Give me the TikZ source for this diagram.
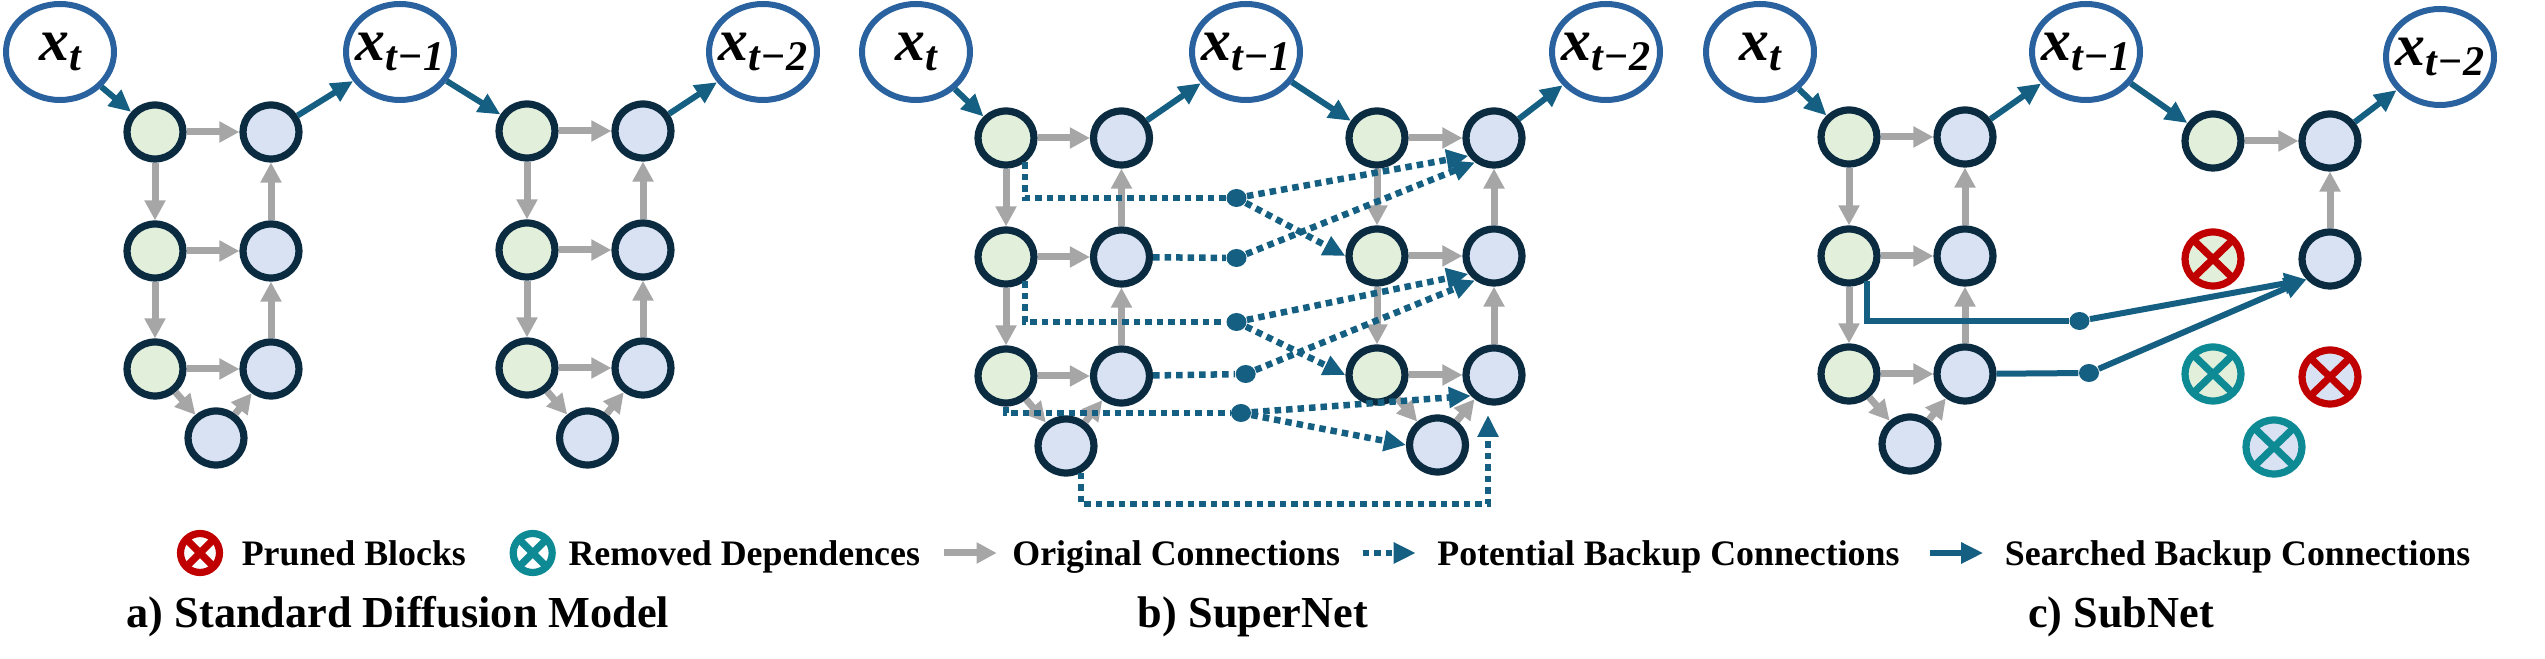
\documentclass[tikz,border=0pt]{standalone}
\usepackage{fontspec}
\setmainfont{Liberation Serif}
\usepackage{xcolor}
\usetikzlibrary{arrows.meta, positioning, shapes.geometric}

\definecolor{blockline}{HTML}{0B2B40}
\definecolor{blockgreen}{HTML}{E2EFDA}
\definecolor{blockblue}{HTML}{D9E2F3}
\definecolor{stateline}{HTML}{2A629F}
\definecolor{backup}{HTML}{156082}
\definecolor{origin}{HTML}{A6A6A6}
\definecolor{prunedred}{HTML}{C00000}
\definecolor{removedteal}{HTML}{0E8A94}

\newcommand{\xlabel}[1]{\makebox[0pt]{x\raisebox{-0.1cm}{\fontsize{12}{13}\selectfont #1}}}

\begin{document}
\begin{tikzpicture}[
  state/.style={
    ellipse,
    draw=stateline,
    line width=0.06cm,
    fill=white,
    inner sep=0pt,
    minimum width=1.08cm,
    minimum height=0.96cm,
    font=\fontsize{17}{18}\selectfont\bfseries\itshape
  },
  block/.style={
    ellipse,
    on grid,
    draw=blockline,
    line width=0.072cm,
    inner sep=0pt,
    minimum width=0.56cm,
    minimum height=0.54cm
  },
  gblock/.style={block, fill=blockgreen},
  bblock/.style={block, fill=blockblue},
  crossed/.style={
    block,
    path picture={
      \draw[line width=0.072cm, #1]
        (path picture bounding box.north west) -- (path picture bounding box.south east)
        (path picture bounding box.north east) -- (path picture bounding box.south west);
    }
  },
  prunedg/.style={crossed=prunedred, draw=prunedred, fill=blockgreen},
  prunedb/.style={crossed=prunedred, draw=prunedred, fill=blockblue},
  removedg/.style={crossed=removedteal, draw=removedteal, fill=blockgreen},
  removedb/.style={crossed=removedteal, draw=removedteal, fill=blockblue},
  legendred/.style={crossed=prunedred, on grid=false, draw=prunedred, fill=white, minimum width=0.39cm, minimum height=0.39cm},
  legendteal/.style={crossed=removedteal, on grid=false, draw=removedteal, fill=white, minimum width=0.39cm, minimum height=0.39cm},
  junction/.style={ellipse, fill=backup, inner sep=0pt, minimum width=0.2cm, minimum height=0.18cm},
  legendtext/.style={inner sep=0pt, text height=0.3cm, text depth=0.04cm, font=\fontsize{10.2}{12}\selectfont\bfseries},
  caption/.style={inner sep=0pt, anchor=base, font=\fontsize{12.6}{15}\selectfont\bfseries},
  grayarrow/.style={-{Triangle[length=0.2cm, width=0.2cm]}, origin, line width=0.07cm},
  solidarrow/.style={-{Triangle[length=0.22cm, width=0.2cm]}, backup, line width=0.06cm},
  dotarrow/.style={-{Triangle[length=0.22cm, width=0.2cm]}, backup, line width=0.065cm, dash pattern=on 0.065cm off 0.05cm},
  dotline/.style={backup, line width=0.065cm, dash pattern=on 0.065cm off 0.05cm},
  solidline/.style={backup, line width=0.06cm}
]

\useasboundingbox (0,0) rectangle (25.45,-6.59);

\node[state] (ax0) at (0.60,-0.52) {\xlabel{t}};
\node[state] (ax1) at (4.00,-0.52) {\xlabel{t−1}};
\node[state] (ax2) at (7.63,-0.52) {\xlabel{t−2}};

\node[gblock] (ag1) at (1.55,-1.32) {};
\node[bblock, right=1.16cm of ag1] (ab1) {};
\node[gblock, below=1.19cm of ag1] (ag2) {};
\node[bblock, right=1.16cm of ag2] (ab2) {};
\node[gblock, below=1.18cm of ag2] (ag3) {};
\node[bblock, right=1.16cm of ag3] (ab3) {};
\node[bblock, below right=0.69cm and 0.61cm of ag3] (ab4) {};

\node[gblock] (ag5) at (5.27,-1.31) {};
\node[bblock, right=1.16cm of ag5] (ab5) {};
\node[gblock, below=1.19cm of ag5] (ag6) {};
\node[bblock, right=1.16cm of ag6] (ab6) {};
\node[gblock, below=1.18cm of ag6] (ag7) {};
\node[bblock, right=1.16cm of ag7] (ab7) {};
\node[bblock, below right=0.70cm and 0.605cm of ag7] (ab8) {};

\draw[solidarrow] (ax0) -- (ag1);
\draw[solidarrow] (ab1) -- (ax1);
\draw[solidarrow] (ax1) -- (ag5);
\draw[solidarrow] (ab5) -- (ax2);

\draw[grayarrow] (ag1) -- (ab1);
\draw[grayarrow] (ag2) -- (ab2);
\draw[grayarrow] (ag3) -- (ab3);
\draw[grayarrow] (ag1) -- (ag2);
\draw[grayarrow] (ag2) -- (ag3);
\draw[grayarrow] (ab2) -- (ab1);
\draw[grayarrow] (ab3) -- (ab2);
\draw[grayarrow] (ag3) -- (ab4);
\draw[grayarrow] (ab4) -- (ab3);

\draw[grayarrow] (ag5) -- (ab5);
\draw[grayarrow] (ag6) -- (ab6);
\draw[grayarrow] (ag7) -- (ab7);
\draw[grayarrow] (ag5) -- (ag6);
\draw[grayarrow] (ag6) -- (ag7);
\draw[grayarrow] (ab6) -- (ab5);
\draw[grayarrow] (ab7) -- (ab6);
\draw[grayarrow] (ag7) -- (ab8);
\draw[grayarrow] (ab8) -- (ab7);

\node[state] (bx0) at (9.16,-0.52) {\xlabel{t}};
\node[state] (bx1) at (12.46,-0.52) {\xlabel{t−1}};
\node[state] (bx2) at (16.06,-0.52) {\xlabel{t−2}};

\node[gblock] (bg1) at (10.06,-1.38) {};
\node[bblock, right=1.155cm of bg1] (bb1) {};
\node[gblock, below=1.19cm of bg1] (bg2) {};
\node[bblock, right=1.155cm of bg2] (bb2) {};
\node[gblock, below=1.19cm of bg2] (bg3) {};
\node[bblock, right=1.155cm of bg3] (bb3) {};
\node[bblock, below right=0.70cm and 0.60cm of bg3] (bb4) {};

\node[gblock] (bg5) at (13.77,-1.38) {};
\node[bblock, right=1.17cm of bg5] (bb5) {};
\node[gblock, below=1.18cm of bg5] (bg6) {};
\node[bblock, right=1.17cm of bg6] (bb6) {};
\node[gblock, below=1.19cm of bg6] (bg7) {};
\node[bblock, right=1.17cm of bg7] (bb7) {};
\node[bblock, below right=0.70cm and 0.605cm of bg7] (bb8) {};

\node[junction] (bj1) at (12.365,-1.98) {};
\node[junction] (bj2) at (12.365,-2.58) {};
\node[junction] (bj3) at (12.365,-3.22) {};
\node[junction] (bj4) at (12.457,-3.74) {};
\node[junction] (bj5) at (12.41,-4.13) {};
\coordinate (bdrop) at (14.88,-5.04);
\coordinate (bend) at (14.88,-4.15);

\draw[grayarrow] (bg1) -- (bb1);
\draw[grayarrow] (bg2) -- (bb2);
\draw[grayarrow] (bg3) -- (bb3);
\draw[grayarrow] (bg1) -- (bg2);
\draw[grayarrow] (bg2) -- (bg3);
\draw[grayarrow] (bb2) -- (bb1);
\draw[grayarrow] (bb3) -- (bb2);
\draw[grayarrow] (bg3) -- (bb4);
\draw[grayarrow] (bb4) -- (bb3);

\draw[grayarrow] (bg5) -- (bb5);
\draw[grayarrow] (bg6) -- (bb6);
\draw[grayarrow] (bg7) -- (bb7);
\draw[grayarrow] (bg5) -- (bg6);
\draw[grayarrow] (bg6) -- (bg7);
\draw[grayarrow] (bb6) -- (bb5);
\draw[grayarrow] (bb7) -- (bb6);
\draw[grayarrow] (bg7) -- (bb8);
\draw[grayarrow] (bb8) -- (bb7);

\draw[solidarrow] (bx0) -- (bg1);
\draw[solidarrow] (bb1) -- (bx1);
\draw[solidarrow] (bx1) -- (bg5);
\draw[solidarrow] (bb5) -- (bx2);

\draw[dotline] (bg1.-52) |- (bj1);
\draw[dotline] (bb2) -- (bj2);
\draw[dotline] (bg2.-52) |- (bj3);
\draw[dotline] (bb3) -- (bj4);
\draw[dotline] (bg3.south) |- (bj5);

\draw[dotarrow] (bj1) -- (bb5.215);
\draw[dotarrow] (bj2) -- (bb5.232);
\draw[dotarrow] (bj1) -- (bg6.west);
\draw[dotarrow] (bj3) -- (bb6.215);
\draw[dotarrow] (bj4) -- (bb6.232);
\draw[dotarrow] (bj3) -- (bg7.west);
\draw[dotarrow] (bj5) -- (bb7.222);
\draw[dotarrow] (bj5) -- (bb8.west);
\draw[dotarrow] (bb4.-61) |- (bdrop) -- (bend);

\node[state] (cx0) at (17.60,-0.52) {\xlabel{t}};
\node[state] (cx1) at (20.86,-0.52) {\xlabel{t−1}};
\node[state] (cx2) at (24.40,-0.57) {\xlabel{t−2}};

\node[gblock] (cg1) at (18.49,-1.37) {};
\node[bblock, right=1.16cm of cg1] (cb1) {};
\node[gblock, below=1.19cm of cg1] (cg2) {};
\node[bblock, right=1.16cm of cg2] (cb2) {};
\node[gblock, below=1.18cm of cg2] (cg3) {};
\node[bblock, right=1.16cm of cg3] (cb3) {};
\node[bblock, below right=0.70cm and 0.61cm of cg3] (cb4) {};

\node[gblock] (cg5) at (22.13,-1.41) {};
\node[bblock, right=1.17cm of cg5] (cb5) {};
\node[bblock, below=1.18cm of cb5] (cb6) {};
\node[prunedg, below=1.18cm of cg5] (cp1) {};
\node[removedg, below=2.33cm of cg5] (cr1) {};
\node[prunedb, below=2.36cm of cb5] (cp2) {};
\node[removedb, below right=0.73cm and 0.61cm of cr1] (cr2) {};

\node[junction] (cj1) at (20.795,-3.21) {};
\node[junction] (cj2) at (20.89,-3.73) {};

\draw[grayarrow] (cg1) -- (cb1);
\draw[grayarrow] (cg2) -- (cb2);
\draw[grayarrow] (cg3) -- (cb3);
\draw[grayarrow] (cg1) -- (cg2);
\draw[grayarrow] (cg2) -- (cg3);
\draw[grayarrow] (cb2) -- (cb1);
\draw[grayarrow] (cb3) -- (cb2);
\draw[grayarrow] (cg3) -- (cb4);
\draw[grayarrow] (cb4) -- (cb3);
\draw[grayarrow] (cg5) -- (cb5);
\draw[grayarrow] (cb6) -- (cb5);

\draw[solidarrow] (cx0) -- (cg1);
\draw[solidarrow] (cb1) -- (cx1);
\draw[solidarrow] (cx1) -- (cg5);
\draw[solidarrow] (cb5) -- (cx2);

\draw[solidline] (cg2.-55) |- (cj1);
\draw[solidline] (cb3) -- (cj2);
\draw[solidarrow] (cj1) -- (cb6.221);
\draw[solidarrow] (cj2) -- (cb6.221);

\node[legendred] (lpruned) at (2.00,-5.53) {};
\node[legendtext, right=0.18cm of lpruned] (tpruned) {Pruned Blocks};
\node[legendteal, right=0.43cm of tpruned] (lremoved) {};
\node[legendtext, right=0.12cm of lremoved] (tremoved) {Removed Dependences};
\coordinate[right=0.23cm of tremoved] (lgray1);
\coordinate[right=0.53cm of lgray1] (lgray2);
\node[legendtext, right=0.15cm of lgray2] (tgray) {Original Connections};
\coordinate[right=0.22cm of tgray] (ldot1);
\coordinate[right=0.53cm of ldot1] (ldot2);
\node[legendtext, right=0.21cm of ldot2] (tdot) {Potential Backup Connections};
\coordinate[right=0.30cm of tdot] (lsolid1);
\coordinate[right=0.53cm of lsolid1] (lsolid2);
\node[legendtext, right=0.21cm of lsolid2] (tsolid) {Searched Backup Connections};

\draw[grayarrow] (lgray1) -- (lgray2);
\draw[dotarrow] (ldot1) -- (ldot2);
\draw[solidarrow] (lsolid1) -- (lsolid2);

\node[caption] (capa) at (3.98,-6.28) {a) Standard Diffusion Model};
\node[caption] (capb) at (12.53,-6.28) {b) SuperNet};
\node[caption] (capc) at (21.21,-6.28) {c) SubNet};

\end{tikzpicture}
\end{document}
